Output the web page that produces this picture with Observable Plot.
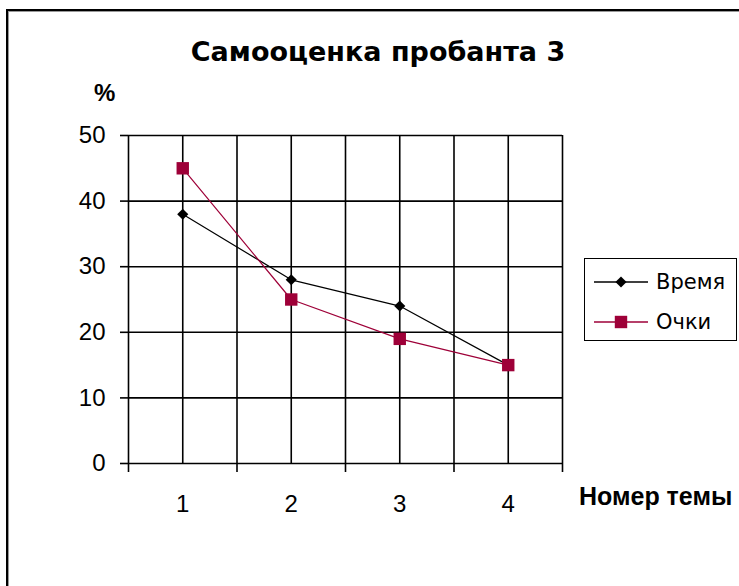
<!DOCTYPE html>
<html><head><meta charset="utf-8">
<script src="https://cdn.jsdelivr.net/npm/d3@7"></script>
<script src="https://cdn.jsdelivr.net/npm/@observablehq/plot@0.6"></script>
<style>
body{margin:0;background:#fff;}
#wrap{position:relative;width:739px;height:586px;overflow:hidden;background:#fff;}
#frame{position:absolute;left:6px;top:9px;width:900px;height:900px;border-top:2px solid #000;border-left:2px solid #000;box-shadow:inset 1px 1px 0 #999;}
#chart{position:absolute;left:0;top:0;}
.lbl{position:absolute;white-space:nowrap;color:#000;line-height:1;}
#title{left:378px;top:36px;transform:translateX(-50%);font:bold 27px "DejaVu Sans",sans-serif;}
#ylab{left:94px;top:79px;font:bold 24px "Liberation Sans",Arial,sans-serif;}
#xlab{left:579px;top:482px;font:bold 25px "Liberation Sans",Arial,sans-serif;}
#legend{position:absolute;left:584px;top:258px;width:151px;height:81px;border:1px solid #000;background:#fff;}
.item{position:absolute;left:8px;height:20px;font:21px "DejaVu Sans",sans-serif;line-height:20px;display:flex;align-items:center;}
.item svg{margin-right:7px;}
</style></head><body>
<div id="wrap"><div id="frame"></div></div>
<script>
const topics = [1, 2, 3, 4];
const seriesNames = ["Время", "Очки"];
const timeValues = [38, 28, 24, 15];
const pointValues = [45, 25, 19, 15];
const yTicks = [0, 10, 20, 30, 40, 50];
const titleText = "Самооценка пробанта 3";
const yLabelText = "%";
const xLabelText = "Номер темы";
const colors = ["#000000", "#9e0038"];
const symbols = ["diamond2", "square"];

const seriesValues = [timeValues, pointValues];
const rows = seriesNames.flatMap((s, i) => topics.map((t, j) => ({series: s, topic: t, value: seriesValues[i][j]})));
const edges = topics.map(t => t - 0.5).concat([topics[topics.length - 1] + 0.5]);
const gridXs = edges.concat(topics);

const chart = Plot.plot({
  width: 739, height: 586,
  marginLeft: 128, marginRight: 177, marginTop: 135, marginBottom: 123,
  x: {type: "linear", domain: [edges[0], edges[edges.length - 1]]},
  y: {domain: [0, 50]},
  color: {domain: seriesNames, range: colors},
  symbol: {domain: seriesNames, range: symbols},
  style: {fontFamily: "'Liberation Sans', Arial, sans-serif", fontSize: "24px", color: "#000", background: "transparent"},
  marks: [
    Plot.gridX(gridXs, {stroke: "#000", strokeOpacity: 1, strokeWidth: 1.6}),
    Plot.gridY(yTicks, {stroke: "#000", strokeOpacity: 1, strokeWidth: 1.6}),
    Plot.axisY({ticks: yTicks, tickSize: 8, tickPadding: 15, label: null, strokeWidth: 1.6}),
    Plot.axisX({ticks: edges, tickSize: 9, tickFormat: () => "", label: null, strokeWidth: 1.6}),
    Plot.axisX({ticks: topics, tickSize: 0, tickPadding: 31, tickFormat: d3.format("d"), label: null}),
    Plot.line(rows, {x: "topic", y: "value", stroke: "series", strokeWidth: 1.2}),
    Plot.dot(rows.filter(d => d.series === seriesNames[0]), {x: "topic", y: "value", fill: "series", symbol: "series", r: 5, stroke: null}),
    Plot.dot(rows.filter(d => d.series === seriesNames[1]), {x: "topic", y: "value", fill: "series", symbol: "series", r: 7, stroke: null})
  ]
});
chart.id = "chart";
const wrap = document.getElementById("wrap");
wrap.appendChild(chart);

function addLabel(id, text) {
  const d = document.createElement("div");
  d.className = "lbl"; d.id = id; d.textContent = text;
  wrap.appendChild(d);
}
addLabel("title", titleText);
addLabel("ylab", yLabelText);
addLabel("xlab", xLabelText);

const legend = d3.select(wrap).append("div").attr("id", "legend");
const sizes = [5, 7];
seriesNames.forEach((s, i) => {
  const it = legend.append("div").attr("class", "item").style("top", (i === 0 ? 13 : 53) + "px");
  const svg = it.append("svg").attr("width", 56).attr("height", 20);
  svg.append("line").attr("x1", 1).attr("x2", 55).attr("y1", 10).attr("y2", 10).attr("stroke", colors[i]).attr("stroke-width", 1.5);
  svg.append("path").attr("transform", "translate(28,10)")
    .attr("d", d3.symbol(i === 0 ? d3.symbolDiamond2 : d3.symbolSquare, sizes[i] * sizes[i] * Math.PI)())
    .attr("fill", colors[i]);
  it.append("span").text(s);
});
</script>
</body></html>
